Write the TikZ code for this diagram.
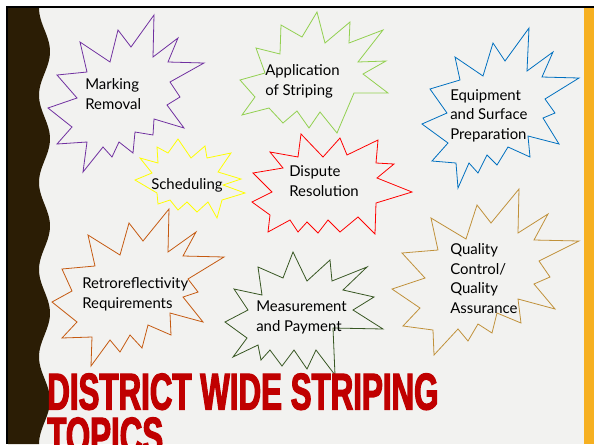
\documentclass[tikz,border=0pt]{standalone}
\usepackage{fontspec}
\setmainfont{Lato}
\newfontfamily\titlefont{Liberation Sans}[FakeStretch=0.605,BoldFeatures={FakeBold=2.2}]

\definecolor{slidegrey}{HTML}{F2F2F0}
\definecolor{bandbrown}{HTML}{2B1D05}
\definecolor{sideorange}{HTML}{F6B021}
\definecolor{titlered}{HTML}{C00000}
\definecolor{burstpurple}{HTML}{7030A0}
\definecolor{burstlime}{HTML}{92D050}
\definecolor{burstblue}{HTML}{0070C0}
\definecolor{burstyellow}{HTML}{FFFF00}
\definecolor{burstred}{HTML}{FF0000}
\definecolor{burstorange}{HTML}{C55A11}
\definecolor{burstgreen}{HTML}{385723}
\definecolor{burstgold}{HTML}{C0913A}

\tikzset{
  burst/.style={line width=0.6pt, line join=miter, fill=slidegrey},
  topic/.style={anchor=base west, inner sep=0pt, align=left, text=black,
    font=\fontsize{11.2}{14.6}\selectfont},
}

\begin{document}
\begin{tikzpicture}[x=0.75pt,y=-0.75pt]
\useasboundingbox (0,0) rectangle (594,444);
\fill[white] (0,0) rectangle (594,444);

% slide background
\fill[slidegrey] (8,8) rectangle (584,444);
\fill[sideorange] (584,8) rectangle (594,444);
\fill[bandbrown] (8,8) -- plot[domain=8:444, samples=160] ({44.5-5.5*cos(4.1284*(\x-8))}, \x) -- (8,444) -- cycle;
\fill[black] (5.7,5.6) rectangle (594,8.2);
\fill[black] (5.7,5.6) rectangle (8.4,444);

% marking removal
\draw[burst, draw=burstpurple] (154,15) -- (153,57) -- (178,38) -- (168,62) -- (204,63) -- (170,82)
  -- (180,97) -- (167,105) -- (184,128) -- (154,119) -- (153,135) -- (135,132) -- (133,153)
  -- (119,142) -- (112,157) -- (103,147) -- (83,172) -- (87,142) -- (57,144) -- (72,127)
  -- (48,108) -- (77,98) -- (57,75) -- (87,72) -- (80,42) -- (110,62) -- (118,30) -- (131,47) -- cycle;
\node[topic] (marking) at (85,109) {Marking\\Removal};

% application of striping
\draw[burst, draw=burstlime] (317,12) -- (325,43) -- (350,22) -- (349,43) -- (383,30) -- (358,62)
  -- (386,61) -- (363,74) -- (388,93) -- (354,93) -- (337,133) -- (320,112) -- (309,128)
  -- (297,111) -- (283,123) -- (269,108) -- (242,115) -- (255,97) -- (240,80) -- (265,73)
  -- (256,48) -- (280,54) -- (281,25) -- (302,37) -- cycle;
\node[topic] (striping) at (265,95) {Application\\of Striping};

% equipment
\draw[burst, draw=burstblue] (529,28) -- (527,71) -- (553,52) -- (542,77) -- (579,78) -- (545,99)
  -- (555,113) -- (543,118) -- (559,144) -- (528,136) -- (530,157) -- (508,147) -- (497,165)
  -- (487,155) -- (478,173) -- (469,163) -- (458,188) -- (456,163) -- (432,161) -- (448,143)
  -- (422,124) -- (447,113) -- (430,89) -- (460,80) -- (455,57) -- (483,76) -- (493,43) -- (505,61) -- cycle;
\node[topic] (equipment) at (450,139) {Equipment\\and Surface\\Preparation};

% scheduling
\draw[burst, draw=burstyellow] (178,139) -- (191,158) -- (205,146) -- (207,158) -- (231,153) -- (218,172)
  -- (241,179) -- (223,185) -- (245,193) -- (222,200) -- (217,218) -- (208,202) -- (197,212)
  -- (187,202) -- (178,210) -- (170,200) -- (158,204) -- (157,193) -- (135,180) -- (152,173)
  -- (140,158) -- (158,163) -- (157,147) -- (168,153) -- cycle;
\node[topic] (scheduling) at (151,189) {Scheduling};

% dispute resolution
\draw[burst, draw=burstred] (301,134) -- (323,157) -- (340,138) -- (347,155) -- (378,140) -- (376,163)
  -- (394,164) -- (377,178) -- (412,192) -- (376,203) -- (375,234) -- (358,217) -- (340,232)
  -- (328,220) -- (318,233) -- (307,222) -- (298,232) -- (290,220) -- (268,232) -- (270,215)
  -- (252,202) -- (272,192) -- (253,173) -- (283,168) -- (270,152) -- (298,157) -- cycle;
\node[topic] (dispute) at (289,196) {Dispute\\Resolution};

% retroreflectivity
\draw[burst, draw=burstorange] (169,209) -- (168,252) -- (196,232) -- (183,256) -- (224,257) -- (188,279)
  -- (198,292) -- (183,297) -- (203,322) -- (170,313) -- (171,335) -- (148,325) -- (142,348)
  -- (130,335) -- (120,352) -- (110,340) -- (91,366) -- (92,337) -- (62,338) -- (77,322)
  -- (52,302) -- (72,291) -- (62,269) -- (95,266) -- (88,235) -- (120,255) -- (129,223) -- (143,241) -- cycle;
\node[topic] (retro) at (82,308) {Retroreflectivity\\Requirements};

% measurement and payment
\draw[burst, draw=burstgreen] (293,252) -- (307,281) -- (330,260) -- (332,281) -- (367,267) -- (343,290)
  -- (374,297) -- (353,310) -- (383,329) -- (333,328) -- (335,375) -- (316,350) -- (307,369)
  -- (294,350) -- (282,366) -- (270,350) -- (261,360) -- (258,345) -- (233,357) -- (247,338)
  -- (225,322) -- (248,310) -- (234,289) -- (262,295) -- (258,267) -- (283,278) -- cycle;
\node[topic] (measure) at (256,331) {Measurement\\and Payment};

% quality
\draw[burst, draw=burstgold] (519,189) -- (518,233) -- (548,214) -- (534,240) -- (579,241) -- (539,261)
  -- (550,277) -- (534,284) -- (555,309) -- (518,299) -- (521,323) -- (497,313) -- (492,333)
  -- (478,324) -- (468,341) -- (458,329) -- (434,355) -- (433,330) -- (403,326) -- (420,308)
  -- (392,289) -- (425,278) -- (402,253) -- (438,250) -- (431,218) -- (466,239) -- (477,205) -- (491,223) -- cycle;
\node[topic] (quality) at (450,313) {Quality\\Control/\\Quality\\Assurance};

% title
\node[anchor=base west, inner sep=0pt, align=left, text=titlered,
  font=\titlefont\bfseries\fontsize{38.8}{33}\selectfont] (title) at (47,453.5) {DISTRICT WIDE STRIPING\\TOPICS};
\end{tikzpicture}
\end{document}
